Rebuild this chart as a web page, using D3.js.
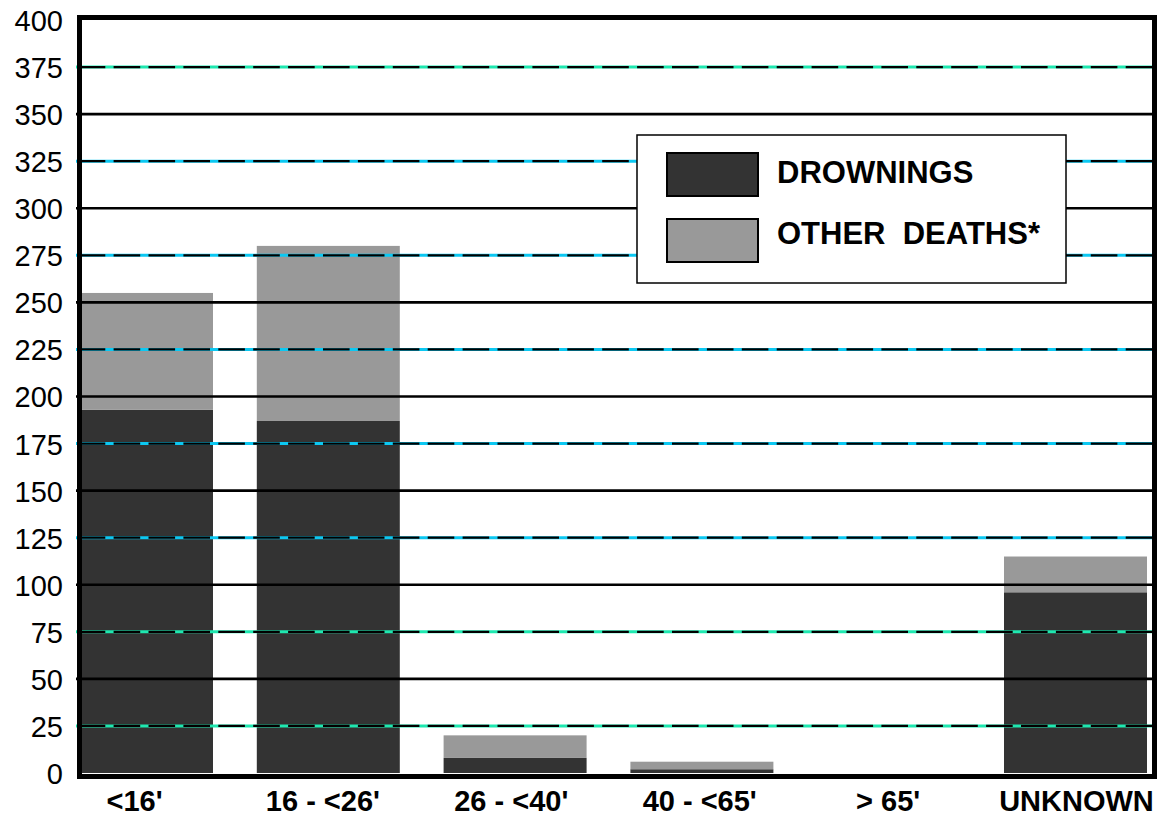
<!DOCTYPE html>
<html>
<head>
<meta charset="utf-8">
<script src="https://cdn.jsdelivr.net/npm/d3@7"></script>
<style>
  body { margin: 0; background: #fff; }
  svg { display: block; font-family: "Liberation Sans", Arial, sans-serif; }
</style>
</head>
<body>
<svg class="chart"></svg>
<script>
let width = 1165, height = 818;

// data
let categories = ["<16'", "16 - <26'", "26 - <40'", "40 - <65'", "> 65'", "UNKNOWN"];
let drownings = [193, 187, 8, 2, 0, 96];
let otherDeaths = [62, 93, 12, 4, 0, 19];
let yTicks = [0, 25, 50, 75, 100, 125, 150, 175, 200, 225, 250, 275, 300, 325, 350, 375, 400];
let seriesNames = ["DROWNINGS", "OTHER  DEATHS*"];
let seriesColors = ["#333333", "#999999"];

let rows = categories.map((c, i) => ({ cat: c, d: drownings[i], o: otherDeaths[i] }));

let svg = d3.select(".chart").attr("width", width).attr("height", height);

// scales
let y = d3.scaleLinear().domain([0, 400]).range([773, 20]);
let x = d3.scaleBand().domain(categories).range([70, 1147]).paddingInner(0.2345).paddingOuter(0);
let xLab = d3.scalePoint().domain(categories).range([134, 1076]);

svg.append("clipPath").attr("id", "plot")
  .append("rect").attr("x", 80).attr("y", 18).attr("width", 1074).attr("height", 757);

// stacked bars
let stack = d3.stack().keys(["d", "o"])(rows);
svg.append("g").attr("clip-path", "url(#plot)")
  .selectAll("g").data(stack).join("g")
  .attr("fill", (s, i) => seriesColors[i])
  .selectAll("rect").data(s => s).join("rect")
  .attr("x", d => x(d.data.cat))
  .attr("width", x.bandwidth())
  .attr("y", d => y(d[1]))
  .attr("height", d => y(d[0]) - y(d[1]));

// gridlines: solid on the 50s, dashed with coloured gaps on the odd 25s
let grid = svg.append("g");
yTicks.filter(v => v > 0 && v < 400).forEach(v => {
  if (v % 50 === 0) {
    grid.append("line")
      .attr("x1", 76).attr("x2", 1154)
      .attr("y1", y(v)).attr("y2", y(v))
      .attr("stroke", "#000").attr("stroke-width", 2.6);
  } else {
    let gap = (v > 100 && v < 350) ? "#0cc8f2" : "#1ee8b0";
    grid.append("line")
      .attr("x1", 76).attr("x2", 1154)
      .attr("y1", y(v)).attr("y2", y(v))
      .attr("stroke", gap).attr("stroke-width", 3);
    grid.append("line")
      .attr("x1", 76).attr("x2", 1154)
      .attr("y1", y(v)).attr("y2", y(v))
      .attr("stroke", "#000").attr("stroke-width", 2.2)
      .attr("stroke-dasharray", "26.6 8.3")
      .attr("stroke-dashoffset", -2.7);
  }
});

// legend
let legend = svg.append("g");
legend.append("rect")
  .attr("x", 637).attr("y", 135).attr("width", 429).attr("height", 148)
  .attr("fill", "#fff").attr("stroke", "#000").attr("stroke-width", 1.5);
seriesNames.forEach((name, i) => {
  legend.append("rect")
    .attr("x", 667).attr("y", 153 + i * 66).attr("width", 91).attr("height", 43)
    .attr("fill", seriesColors[i]).attr("stroke", "#000").attr("stroke-width", 2);
  legend.append("text")
    .attr("x", 777).attr("y", 183 + i * 61)
    .style("font-size", "31px").style("font-weight", "bold")
    .style("white-space", "pre")
    .text(name);
});

// frame
svg.append("rect")
  .attr("x", 79.5).attr("y", 17.5).attr("width", 1075).attr("height", 759)
  .attr("fill", "none").attr("stroke", "#000").attr("stroke-width", 5);

// y axis labels
let yAxis = svg.append("g")
  .attr("transform", "translate(63,0)")
  .call(d3.axisLeft(y).tickValues(yTicks).tickSize(0).tickPadding(0));
yAxis.select(".domain").remove();
yAxis.selectAll("text")
  .style("font-size", "29px").style("font-family", "'Liberation Sans', Arial, sans-serif")
  .attr("fill", "#000").attr("dy", "0.36em");

// x axis labels
let xAxis = svg.append("g")
  .attr("transform", "translate(0,790)")
  .call(d3.axisBottom(xLab).tickSize(0).tickPadding(0));
xAxis.select(".domain").remove();
xAxis.selectAll("text")
  .style("font-size", "29px").style("font-weight", "bold")
  .style("font-family", "'Liberation Sans', Arial, sans-serif")
  .attr("fill", "#000");
</script>
</body>
</html>
